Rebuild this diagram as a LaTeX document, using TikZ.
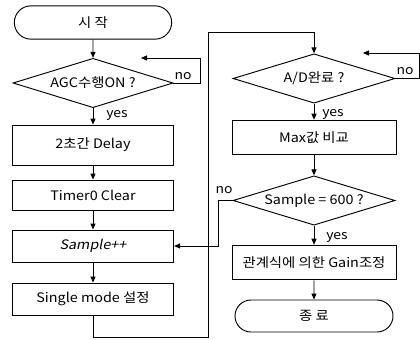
\documentclass[tikz,border=0pt]{standalone}
\usepackage{fontspec}
\setmainfont[FakeStretch=1.1]{Noto Sans CJK KR}
\newfontfamily\slantfont[FakeSlant=0.2,FakeStretch=1.1]{Noto Sans CJK KR}
\usetikzlibrary{arrows.meta,shapes.geometric,shapes.misc}
\begin{document}
\begin{tikzpicture}[x=0.75pt,y=-0.75pt,
  line width=0.7pt,
  every node/.style={font=\fontsize{9.8}{11}\selectfont, inner sep=0pt},
  procbox/.style={draw, rectangle, minimum width=#1, minimum height=27pt},
  termbox/.style={draw, rounded rectangle, minimum width=#1, minimum height=25pt},
  decbox/.style={draw, diamond, aspect=3.2, minimum width=#1, minimum height=37pt},
  arr/.style={-{Triangle[length=4.5pt,width=3.8pt]}},
  lbl/.style={font=\fontsize{9.5}{10}\selectfont}]
\useasboundingbox (0,0) rectangle (420,339);
% left column
\node[termbox=118pt] (start) at (93,22.5) {시 작};
\node[decbox=120pt] (agc) at (93,83) {AGC수행ON ?};
\node[procbox=121pt, minimum height=30pt] (delay) at (93,145) {2초간 Delay};
\node[procbox=121pt, minimum height=22.5pt] (timer) at (93,195) {Timer0 Clear};
\node[procbox=121pt, minimum height=24pt] (spp) at (93,246) {\slantfont Sample++};
\node[procbox=121pt, minimum height=24pt] (single) at (93,299) {Single mode 설정};
% right column
\node[decbox=121.5pt] (ad) at (314,78.5) {A/D완료 ?};
\node[procbox=123pt, minimum height=26pt] (max) at (314,137.5) {Max값 비교};
\node[decbox=121.5pt] (samp) at (314,200.5) {Sample = 600 ?};
\node[procbox=123pt, minimum height=26pt] (gain) at (314,262.5) {관계식에 의한 Gain조정};
\node[termbox=118.5pt, minimum height=24pt] (end) at (314,316) {종 료};
% coordinates
\coordinate (n1) at (200,58);
\coordinate (n1e) at (141,58);
\coordinate (b1) at (93,337);
\coordinate (b2) at (208,337);
\coordinate (b3) at (208,32);
\coordinate (b4) at (314,32);
\coordinate (r1) at (419,53);
\coordinate (r1e) at (363,53);
\coordinate (s1) at (218,200.5);
\coordinate (s2) at (218,246);
% connectors
\draw[arr] (start) -- (agc);
\draw[arr] (agc) -- (delay);
\draw[arr] (delay) -- (timer);
\draw[arr] (timer) -- (spp);
\draw[arr] (spp) -- (single);
\draw[arr] (agc.east) -| (n1) -- (n1e);
\draw[arr] (single.south) -- (b1) -- (b2) -- (b3) -- (b4) -- (ad.north);
\draw[arr] (ad) -- (max);
\draw[arr] (max) -- (samp);
\draw[arr] (samp) -- (gain);
\draw[arr] (gain) -- (end);
\draw[arr] (ad.east) -| (r1) -- (r1e);
\draw[arr] (samp.west) -- (s1) -- (s2) -- (spp.east);
% labels
\node[lbl] (no1) at (183,76) {no};
\node[lbl] (yes1) at (117,115) {yes};
\node[lbl] (no2) at (405,71) {no};
\node[lbl] (yes2) at (333,114) {yes};
\node[lbl] (no3) at (224,190) {no};
\node[lbl] (yes3) at (337,237) {yes};
\end{tikzpicture}
\end{document}
